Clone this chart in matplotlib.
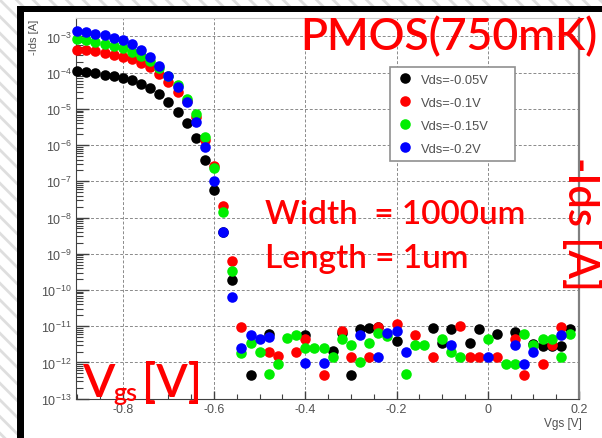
import numpy as np
import matplotlib
matplotlib.use("Agg")
import matplotlib.pyplot as plt
from matplotlib.patches import Rectangle
from matplotlib.ticker import FixedLocator, MultipleLocator, FuncFormatter, NullFormatter

plt.rcParams['font.family'] = ['Liberation Sans', 'DejaVu Sans']
plt.rcParams['mathtext.fontset'] = 'custom'
plt.rcParams['mathtext.rm'] = 'Liberation Sans'
plt.rcParams['mathtext.it'] = 'Liberation Sans'
plt.rcParams['hatch.linewidth'] = 2.0

W, H, DPI = 602, 439, 100
nan = float('nan')

# ---------------- data ----------------
vgs = [-0.90, -0.88, -0.86, -0.84, -0.82, -0.80, -0.78, -0.76, -0.74, -0.72,
       -0.70, -0.68, -0.66, -0.64, -0.62, -0.60, -0.58, -0.56, -0.54, -0.52,
       -0.50, -0.48, -0.46, -0.44, -0.42, -0.40, -0.38, -0.36, -0.34, -0.32,
       -0.30, -0.28, -0.26, -0.24, -0.22, -0.20, -0.18, -0.16, -0.14, -0.12,
       -0.10, -0.08, -0.06, -0.04, -0.02, 0.00, 0.02, 0.04, 0.06, 0.08,
       0.10, 0.12, 0.14, 0.16, 0.18]

# log10(-Ids [A]); nan = not shown (non-positive value on log axis)
log_ids_vds005 = [-3.96, -3.99, -4.02, -4.06, -4.10, -4.15, -4.21, -4.30, -4.42, -4.60,
                  -4.82, -5.08, -5.39, -5.80, -6.41, -7.24, -8.40, -9.73, nan, -12.34,
                  nan, -11.21, nan, nan, nan, -11.23, nan, nan, -11.68, -11.19,
                  -12.34, -11.09, -11.05, -11.03, nan, -11.40, nan, nan, nan, -11.05,
                  -11.47, -11.07, nan, -11.45, -11.09, nan, -11.21, nan, -11.16, nan,
                  -11.50, -11.56, -11.56, -11.56, -11.09]
log_ids_vds010 = [-3.36, -3.38, -3.41, -3.45, -3.50, -3.56, -3.63, -3.72, -3.85, -4.03,
                  -4.27, -4.53, -4.78, -5.22, -5.85, -6.58, -7.68, -9.20, -11.03, nan,
                  nan, -11.70, -11.81, nan, -11.70, -11.35, nan, -12.34, nan, -11.14,
                  -11.84, nan, -11.84, -11.03, nan, -10.95, nan, -11.25, nan, -11.84,
                  nan, nan, -11.00, -11.84, -11.84, nan, -11.84, nan, -11.35, -12.34,
                  nan, -12.03, -11.51, -11.03, nan]
log_ids_vds015 = [-3.08, -3.11, -3.15, -3.20, -3.26, -3.33, -3.42, -3.53, -3.68, -3.87,
                  -4.10, -4.33, -4.72, -5.14, -5.78, -6.63, -7.85, -9.48, -11.75, -11.47,
                  -11.70, -12.33, -12.03, -11.33, -11.25, -11.61, -11.61, -11.61, -11.84, -11.35,
                  -11.51, -11.98, -11.45, -11.19, -11.28, nan, -12.33, -11.51, -11.51, nan,
                  -11.35, -11.72, -11.84, nan, nan, -11.35, nan, -12.03, -12.03, -11.21,
                  -11.51, -11.35, -11.35, -11.84, -11.21]
log_ids_vds020 = [-2.86, -2.88, -2.92, -2.97, -3.03, -3.11, -3.20, -3.36, -3.57, -3.81,
                  -4.10, -4.40, -4.80, -5.36, -6.05, -6.99, -8.40, -10.18, -11.61, -11.23,
                  -11.35, -11.31, nan, nan, nan, -12.01, nan, -12.01, nan, nan,
                  nan, -11.25, nan, -11.84, -11.19, -11.14, -11.70, nan, nan, nan,
                  nan, -11.51, nan, nan, nan, -11.84, nan, nan, -11.51, -12.03,
                  -11.70, nan, nan, -11.25, nan]

series_labels = ["Vds=-0.05V", "Vds=-0.1V", "Vds=-0.15V", "Vds=-0.2V"]
series_colors = ["#000000", "#ff0000", "#00ee00", "#0000ff"]
y_decades = [-13, -12, -11, -10, -9, -8, -7, -6, -5, -4, -3]

# ---------------- figure ----------------
fig = plt.figure(figsize=(W / DPI, H / DPI), dpi=DPI)
fig.patch.set_facecolor('white')

def fx(px):
    return px / W

def fy(py):
    return 1 - py / H

# slide background (hatched) + black frame
fig.patches.append(Rectangle((0, 0), 1, 1, transform=fig.transFigure, facecolor='white',
                             edgecolor='#dedede', hatch='\\\\', linewidth=0, zorder=-10))
fig.patches.append(Rectangle((fx(24), 0), 1 - fx(24), fy(13), transform=fig.transFigure,
                             facecolor='white', edgecolor='none', zorder=-9))
fig.patches.append(Rectangle((fx(17), 0), fx(24) - fx(17), fy(7), transform=fig.transFigure,
                             facecolor='black', edgecolor='none', zorder=-8))
fig.patches.append(Rectangle((fx(17), fy(13)), 1 - fx(17), fy(7) - fy(13), transform=fig.transFigure,
                             facecolor='black', edgecolor='none', zorder=-8))

ax = fig.add_axes([fx(76), fy(400), fx(579) - fx(76), fy(19) - fy(400)])
ax.set_facecolor('white')

for vals, col, lab in zip([log_ids_vds005, log_ids_vds010, log_ids_vds015, log_ids_vds020],
                          series_colors, series_labels):
    ax.plot(vgs, 10 ** np.array(vals, dtype=float), 'o', color=col, ms=7.6, mew=0,
            label=lab, clip_on=False, zorder=3)

ax.set_yscale('log')
ax.set_xlim(-0.9025, 0.2)
ax.set_ylim(10 ** -13.01, 10 ** -2.49)

ax.xaxis.set_major_locator(MultipleLocator(0.2))
ax.xaxis.set_minor_locator(MultipleLocator(0.05))
ax.xaxis.set_major_formatter(FuncFormatter(lambda v, p: '0' if abs(v) < 1e-9 else f'{v:g}'))
ax.yaxis.set_major_locator(FixedLocator([10.0 ** d for d in y_decades]))
ax.yaxis.set_minor_locator(FixedLocator([m * 10.0 ** d for d in y_decades[:-1] for m in range(2, 10)]))
ax.yaxis.set_major_formatter(FuncFormatter(lambda v, p: r'$10^{%d}$' % int(round(np.log10(v)))))
ax.yaxis.set_minor_formatter(NullFormatter())

ax.tick_params(which='both', direction='in', color='#404040', labelcolor='#505050',
               top=False, right=False, labelsize=9)
ax.tick_params(axis='y', which='major', length=9, width=1.0, pad=3)
ax.tick_params(axis='y', which='minor', length=5, width=0.8)
ax.tick_params(axis='x', which='major', length=6, width=1.0, pad=3)
ax.tick_params(axis='x', which='minor', length=3.5, width=0.8)

ax.grid(True, which='major', color='#8a8a8a', linestyle=(0, (3, 2)), linewidth=0.7)
ax.set_axisbelow(True)

ax.spines['left'].set_color('#404040')
ax.spines['bottom'].set_color('#404040')
ax.spines['right'].set_color('#808080')
ax.spines['right'].set_linewidth(1.6)
ax.spines['top'].set_color('#c8c8c8')
ax.spines['top'].set_linewidth(0.8)

# axis titles (ROOT style)
fig.text(fx(34), fy(20), '-Ids [A]', rotation=90, ha='center', va='top', fontsize=8, color='#505050')
fig.text(fx(582), fy(424), 'Vgs [V]', ha='right', va='center', fontsize=8.5, color='#505050')

leg = ax.legend(loc='upper left', bbox_to_anchor=(0.624, 0.622, 0.249, 0.249), mode='expand',
                borderaxespad=0, fontsize=9.3, handlelength=1.3, handletextpad=0.6,
                labelspacing=0.85, borderpad=0.5, fancybox=False, framealpha=1,
                edgecolor='#909090', labelcolor='#505050')
leg.get_frame().set_linewidth(1.2)
leg.set_zorder(5)

# red slide annotations
RED = '#ff0000'
ann_font = ['Lato', 'DejaVu Sans']
fig.text(fx(300), fy(50), 'PMOS(750mK)', fontsize=32, color=RED, family=ann_font,
         weight='semibold', va='baseline', ha='left')
fig.text(fx(265), fy(224), 'Width  = 1000um', fontsize=24, color=RED, family=ann_font,
         weight='semibold', va='baseline', ha='left')
fig.text(fx(265), fy(268), 'Length = 1um', fontsize=24, color=RED, family=ann_font,
         weight='semibold', va='baseline', ha='left')
fig.text(fx(581), fy(224), '-Ids [A]', fontsize=30, color=RED, family=ann_font, rotation=-90,
         weight='semibold', ha='center', va='center')
fig.text(fx(82), fy(397), 'V', fontsize=34, color=RED, family=ann_font, weight='semibold',
         va='baseline', ha='left')
fig.text(fx(113), fy(401), 'gs', fontsize=18, color=RED, family=ann_font, weight='semibold',
         va='baseline', ha='left')
fig.text(fx(142), fy(397), '[V]', fontsize=33, color=RED, family=ann_font, weight='semibold',
         va='baseline', ha='left')

fig.savefig('out.png', dpi=DPI)
